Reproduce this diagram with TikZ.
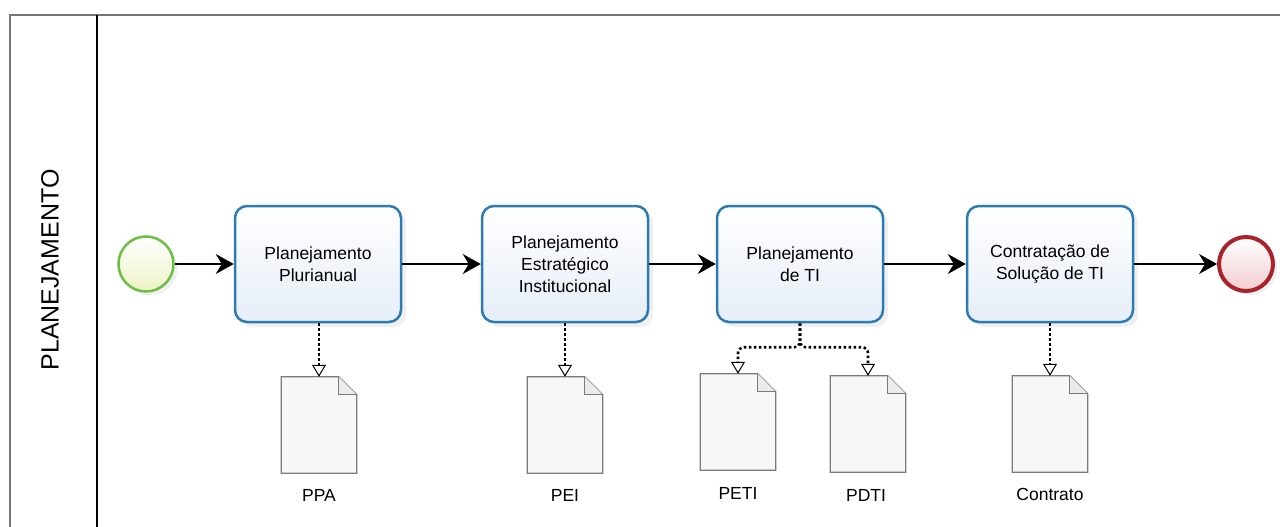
\documentclass[tikz,border=0pt]{standalone}
\usepackage{fontspec}
\setmainfont{Liberation Sans}
\usepackage{xcolor}
\usetikzlibrary{arrows.meta,shadows}

\definecolor{taskblue}{HTML}{2C7BB3}
\definecolor{taskfill}{HTML}{E6EEF8}
\definecolor{startgreen}{HTML}{6CBF45}
\definecolor{startfill}{HTML}{EEF3C6}
\definecolor{endred}{HTML}{A8232A}
\definecolor{endfill}{HTML}{F3CDD0}
\definecolor{docgray}{HTML}{7A7A7A}
\definecolor{poolgray}{HTML}{767676}

\begin{document}
\begin{tikzpicture}[x=1pt,y=-1pt]
	\tikzstyle{task} = [draw=taskblue, line width=2.5pt, rounded corners=12pt, minimum width=166pt, minimum height=116pt, top color=white, bottom color=taskfill, align=center, font=\fontsize{17.5}{22}\selectfont, drop shadow={opacity=0.12, shadow xshift=5pt, shadow yshift=-5pt}]
	\tikzstyle{startev} = [circle, draw=startgreen, line width=2.5pt, minimum size=55pt, inner sep=0, top color=white, bottom color=startfill, drop shadow={opacity=0.12, shadow xshift=4pt, shadow yshift=-4pt}]
	\tikzstyle{endev} = [circle, draw=endred, line width=4pt, minimum size=54pt, inner sep=0, top color=white, bottom color=endfill, drop shadow={opacity=0.12, shadow xshift=4pt, shadow yshift=-4pt}]
	\tikzstyle{doc} = [minimum width=75pt, minimum height=96pt, inner sep=0]
	\tikzstyle{doclabel} = [font=\fontsize{17.5}{22}\selectfont, inner sep=0]
	\tikzstyle{docline} = [draw=docgray, line width=1.3pt, fill=black!3]
	\tikzstyle{flow} = [draw=black, line width=1.6pt, -{Stealth[length=18pt,width=20pt,inset=6pt]}]
	\tikzstyle{assoc} = [draw=black, line width=2.6pt, dash pattern=on 2.6pt off 2.4pt, rounded corners=6pt, -{Triangle[open,line width=1pt,length=12pt,width=14pt]}]

	% pool and lane
	\useasboundingbox (0,0) rectangle (1280,527);
	\draw[poolgray, line width=2.5pt] (10,527) -- (10,15) -- (1280,15);
	\draw[black, line width=1.5pt] (97,15) -- (97,527);
	\node[rotate=90, font=\fontsize{25}{28}\selectfont] (lane) at (50,270) {PLANEJAMENTO};

	% events and tasks
		\node[startev] (start) at (146,264) {};
		\node[task] (ppaTask) at (318,264) {Planejamento\\Plurianual};
		\node[task] (peiTask) at (565,264) {Planejamento\\Estratégico\\Institucional};
		\node[task] (tiTask) at (800,264) {Planejamento\\de TI};
		\node[task] (ctTask) at (1050,264) {Contratação de\\Solução de TI};
		\node[endev] (end) at (1246,264) {};

	% documents
		\node[doc] (ppa) at (319,425) {};
		\node[doc] (pei) at (565,425) {};
		\node[doc] (peti) at (738,422) {};
		\node[doc] (pdti) at (868,424) {};
		\node[doc] (contrato) at (1050,424) {};
	\foreach \d in {ppa,pei,peti,pdti,contrato} {
		\draw[docline] (\d.north west) -- ([xshift=-18pt]\d.north east) -- ([yshift=-18pt]\d.north east) -- (\d.south east) -- (\d.south west) -- cycle;
		\draw[docline, fill=black!8] ([xshift=-18pt]\d.north east) -- ([xshift=-18pt,yshift=-18pt]\d.north east) -- ([yshift=-18pt]\d.north east);
	}
		\node[doclabel] (ppaLabel) at (319,495) {PPA};
		\node[doclabel] (peiLabel) at (565,495) {PEI};
		\node[doclabel] (petiLabel) at (738,493) {PETI};
		\node[doclabel] (pdtiLabel) at (866,495) {PDTI};
		\node[doclabel] (contratoLabel) at (1050,494) {Contrato};

	% sequence flow
	\draw[flow] (start) -- (ppaTask);
	\draw[flow] (ppaTask) -- (peiTask);
	\draw[flow] (peiTask) -- (tiTask);
	\draw[flow] (tiTask) -- (ctTask);
	\draw[flow] (ctTask) -- (end);

	% associations
	\draw[assoc] (ppaTask.south -| ppa.north) -- (ppa.north);
	\draw[assoc] (peiTask.south) -- (pei.north);
	\draw[assoc] (tiTask.south) -- ++(0,24) -| (peti.north);
	\draw[assoc] (tiTask.south) -- ++(0,24) -| (pdti.north);
	\draw[assoc] (ctTask.south) -- (contrato.north);
\end{tikzpicture}
\end{document}
